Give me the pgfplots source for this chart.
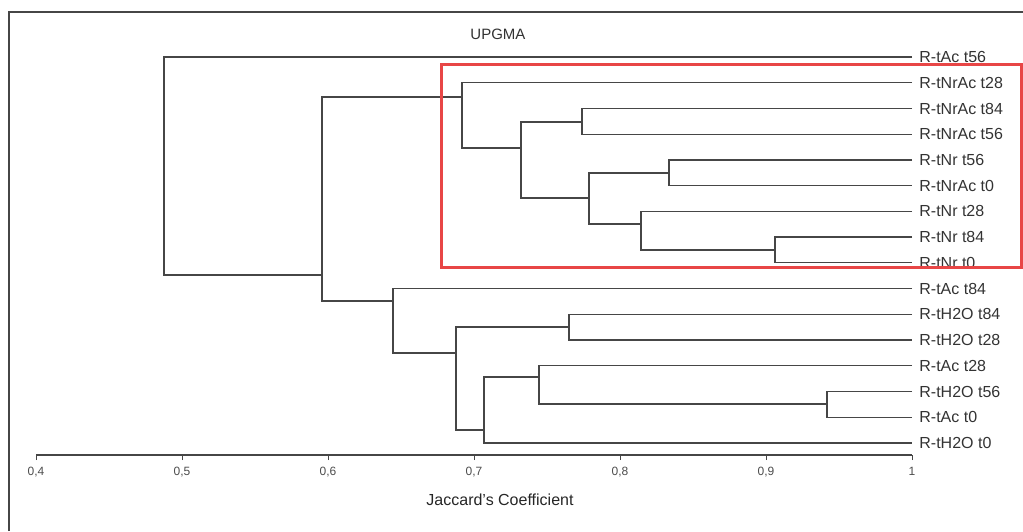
\documentclass[border=0pt]{standalone}
\usepackage{fontspec}
\setmainfont{Liberation Sans}
\usepackage{pgfplots}
\pgfplotsset{compat=1.18}
\definecolor{tree}{RGB}{70,70,70}
\definecolor{boxred}{RGB}{232,70,70}
\begin{document}
\begin{tikzpicture}
\begin{axis}[
  scale only axis,
  width=438pt, height=221.5pt,
  xmin=0.4, xmax=1, ymin=-455, ymax=-12,
  enlargelimits=false, clip=false,
  axis x line*=bottom, axis y line=none,
  axis line style={-, tree, line width=0.6pt},
  xtick={0.4,0.5,0.6,0.7,0.8,0.9,1},
  tick align=outside, major tick length=2.5pt,
  tick style={tree, line width=0.5pt},
  minor tick num=0,
  /pgf/number format/use comma,
  /pgf/number format/assume math mode=true,
  xticklabel style={font=\fontsize{6}{7}\selectfont, text=black!70},
  br/.style={tree, line width=0.65pt, mark=none, solid},
]
% H
\addplot[br] coordinates {(1,-237.1) (0.9062,-237.1) (0.9062,-262.8) (1,-262.8)};
% G
\addplot[br] coordinates {(1,-211.4) (0.8144,-211.4) (0.8144,-250) (0.9062,-250)};
% F
\addplot[br] coordinates {(1,-159.9) (0.8336,-159.9) (0.8336,-185.7) (1,-185.7)};
% E
\addplot[br] coordinates {(0.8336,-173) (0.7788,-173) (0.7788,-224) (0.8144,-224)};
% D
\addplot[br] coordinates {(1,-108.5) (0.7740,-108.5) (0.7740,-134.2) (1,-134.2)};
% C
\addplot[br] coordinates {(0.7740,-122) (0.7322,-122) (0.7322,-198) (0.7788,-198)};
% B
\addplot[br] coordinates {(1,-82.7) (0.6918,-82.7) (0.6918,-148) (0.7322,-148)};
% N
\addplot[br] coordinates {(1,-391.5) (0.9418,-391.5) (0.9418,-417.2) (1,-417.2)};
% M
\addplot[br] coordinates {(1,-365.8) (0.7445,-365.8) (0.7445,-404) (0.9418,-404)};
% L
\addplot[br] coordinates {(0.7445,-377) (0.7068,-377) (0.7068,-443) (1,-443)};
% K
\addplot[br] coordinates {(1,-314.3) (0.7651,-314.3) (0.7651,-340) (1,-340)};
% J
\addplot[br] coordinates {(0.7651,-327) (0.6877,-327) (0.6877,-430) (0.7068,-430)};
% I
\addplot[br] coordinates {(1,-288.6) (0.6445,-288.6) (0.6445,-353) (0.6877,-353)};
% A
\addplot[br] coordinates {(0.6918,-97) (0.5959,-97) (0.5959,-301) (0.6445,-301)};
% Root
\addplot[br] coordinates {(1,-57) (0.4877,-57) (0.4877,-275) (0.5959,-275)};

% leaf labels
\begin{scope}[every node/.style={anchor=west, font=\fontsize{8}{9.6}\selectfont, text=black!80, inner sep=0pt, xshift=3.5pt}]
\node at (axis cs:1,-57) {R-tAc t56};
\node at (axis cs:1,-82.7) {R-tNrAc t28};
\node at (axis cs:1,-108.5) {R-tNrAc t84};
\node at (axis cs:1,-134.2) {R-tNrAc t56};
\node at (axis cs:1,-159.9) {R-tNr t56};
\node at (axis cs:1,-185.7) {R-tNrAc t0};
\node at (axis cs:1,-211.4) {R-tNr t28};
\node at (axis cs:1,-237.1) {R-tNr t84};
\node at (axis cs:1,-262.8) {R-tNr t0};
\node at (axis cs:1,-288.6) {R-tAc t84};
\node at (axis cs:1,-314.3) {R-tH2O t84};
\node at (axis cs:1,-340) {R-tH2O t28};
\node at (axis cs:1,-365.8) {R-tAc t28};
\node at (axis cs:1,-391.5) {R-tH2O t56};
\node at (axis cs:1,-417.2) {R-tAc t0};
\node at (axis cs:1,-443) {R-tH2O t0};
\end{scope}

% title and axis label
\node[font=\fontsize{7.5}{9}\selectfont, text=black!80] at (axis cs:0.7164,-34) {UPGMA};
\node[font=\fontsize{8}{9.6}\selectfont, text=black!85] at (axis cs:0.7178,-500) {Jaccard's Coefficient};

% red box
\draw[boxred, line width=1.5pt] (axis cs:0.677397,-65) rectangle (axis cs:1.074658,-267);

% frame
\draw[tree, line width=0.65pt] (axis cs:0.381507,-531) -- (axis cs:0.381507,-12) -- (axis cs:1.076027,-12);

\coordinate (BL) at (axis cs:0.375342,-531);
\coordinate (TR) at (axis cs:1.076027,0);
\end{axis}
\pgfresetboundingbox
\path[use as bounding box] (BL) rectangle (TR);
\end{tikzpicture}
\end{document}
